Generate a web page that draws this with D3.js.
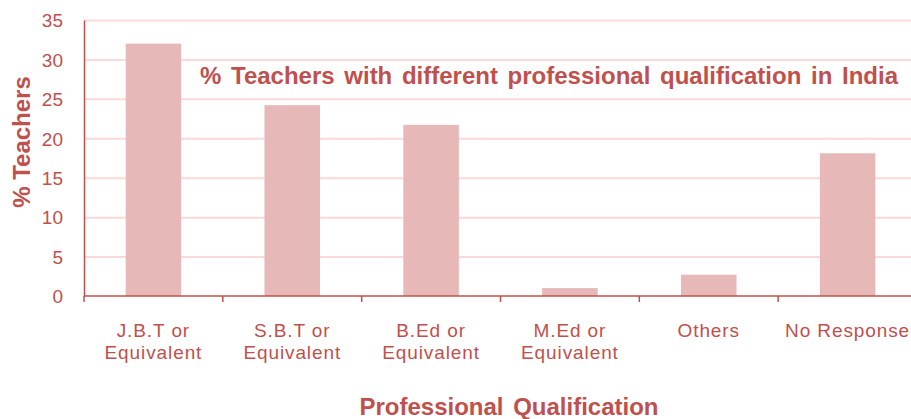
<!DOCTYPE html>
<html lang="en">
<head>
  <meta charset="UTF-8" />
  <title>% Teachers with different professional qualification in India</title>
  <script src="https://cdnjs.cloudflare.com/ajax/libs/d3/7.8.2/d3.min.js"></script>
  <style>
    body { margin: 0; padding: 0; background: #fff; }
    svg { display: block; font-family: "Liberation Sans", Arial, sans-serif; }
    .grid line { stroke: #fcd9d9; stroke-width: 2px; }
    .grid .domain { display: none; }
    .axis text { fill: #c0504d; font-size: 19px; }
  </style>
</head>
<body>
<svg id="chart" width="911" height="419"></svg>
<script>
// data
const categories = [
  ["J.B.T or", "Equivalent"],
  ["S.B.T or", "Equivalent"],
  ["B.Ed or", "Equivalent"],
  ["M.Ed or", "Equivalent"],
  ["Others"],
  ["No Response"]
];
const values = [32.0, 24.2, 21.7, 1.0, 2.7, 18.1];
const yTicks = [0, 5, 10, 15, 20, 25, 30, 35];

const red = "#c0504d";
const svg = d3.select("#chart");
const plotLeft = 84, plotRight = 917, plotTop = 20, plotBottom = 296;

const x = d3.scaleBand()
  .domain(d3.range(categories.length))
  .range([plotLeft, plotRight])
  .paddingInner(0.6)
  .paddingOuter(0.3);

const y = d3.scaleLinear().domain([0, 35]).range([plotBottom, plotTop]);

// gridlines
svg.append("g")
  .attr("class", "grid")
  .attr("transform", `translate(${plotLeft},0)`)
  .call(d3.axisLeft(y).tickValues(yTicks.slice(1)).tickSize(-(911 - plotLeft)).tickFormat(""));

// bars
svg.append("g").selectAll("rect")
  .data(values)
  .join("rect")
  .attr("x", (d, i) => x(i))
  .attr("width", x.bandwidth())
  .attr("y", d => y(d))
  .attr("height", d => plotBottom - y(d))
  .attr("fill", "#e6b8b7");

// y axis
const yAxis = svg.append("g")
  .attr("class", "axis")
  .attr("transform", `translate(${plotLeft},0)`)
  .call(d3.axisLeft(y).tickValues(yTicks).tickSize(0).tickPadding(21));
yAxis.select(".domain").attr("stroke", red).attr("stroke-width", 1.5);
yAxis.selectAll("text").attr("dy", "0.36em");

// x axis: ticks at band boundaries
const xAxis = svg.append("g").attr("transform", `translate(0,${plotBottom})`);
xAxis.append("line")
  .attr("x1", plotLeft).attr("x2", 911)
  .attr("stroke", red).attr("stroke-width", 1.5);
xAxis.selectAll(".tick")
  .data(d3.range(categories.length))
  .join("line")
  .attr("x1", i => x(i) - x.bandwidth() * 0.75)
  .attr("x2", i => x(i) - x.bandwidth() * 0.75)
  .attr("y1", 0).attr("y2", 6)
  .attr("stroke", red).attr("stroke-width", 1.5);

// category labels
const labels = svg.append("g").attr("class", "axis");
categories.forEach((lines, i) => {
  const t = labels.append("text")
    .attr("x", x(i) + x.bandwidth() / 2)
    .attr("y", 337)
    .attr("text-anchor", "middle")
    .style("letter-spacing", "0.9px");
  lines.forEach((l, j) => {
    t.append("tspan")
      .attr("x", x(i) + x.bandwidth() / 2)
      .attr("dy", j === 0 ? 0 : 22)
      .text(l);
  });
});

// titles
svg.append("text")
  .attr("x", 200).attr("y", 84)
  .attr("fill", red)
  .attr("font-size", 24).attr("font-weight", "bold")
  .attr("word-spacing", "3px")
  .text("% Teachers with different professional qualification in India");

svg.append("text")
  .attr("transform", "translate(30,142) rotate(-90)")
  .attr("text-anchor", "middle")
  .attr("fill", red)
  .attr("font-size", 24).attr("font-weight", "bold")
  .text("% Teachers");

svg.append("text")
  .attr("x", 509).attr("y", 415)
  .attr("text-anchor", "middle")
  .attr("fill", red)
  .attr("font-size", 24).attr("font-weight", "bold")
  .attr("word-spacing", "3px")
  .text("Professional Qualification");
</script>
</body>
</html>
